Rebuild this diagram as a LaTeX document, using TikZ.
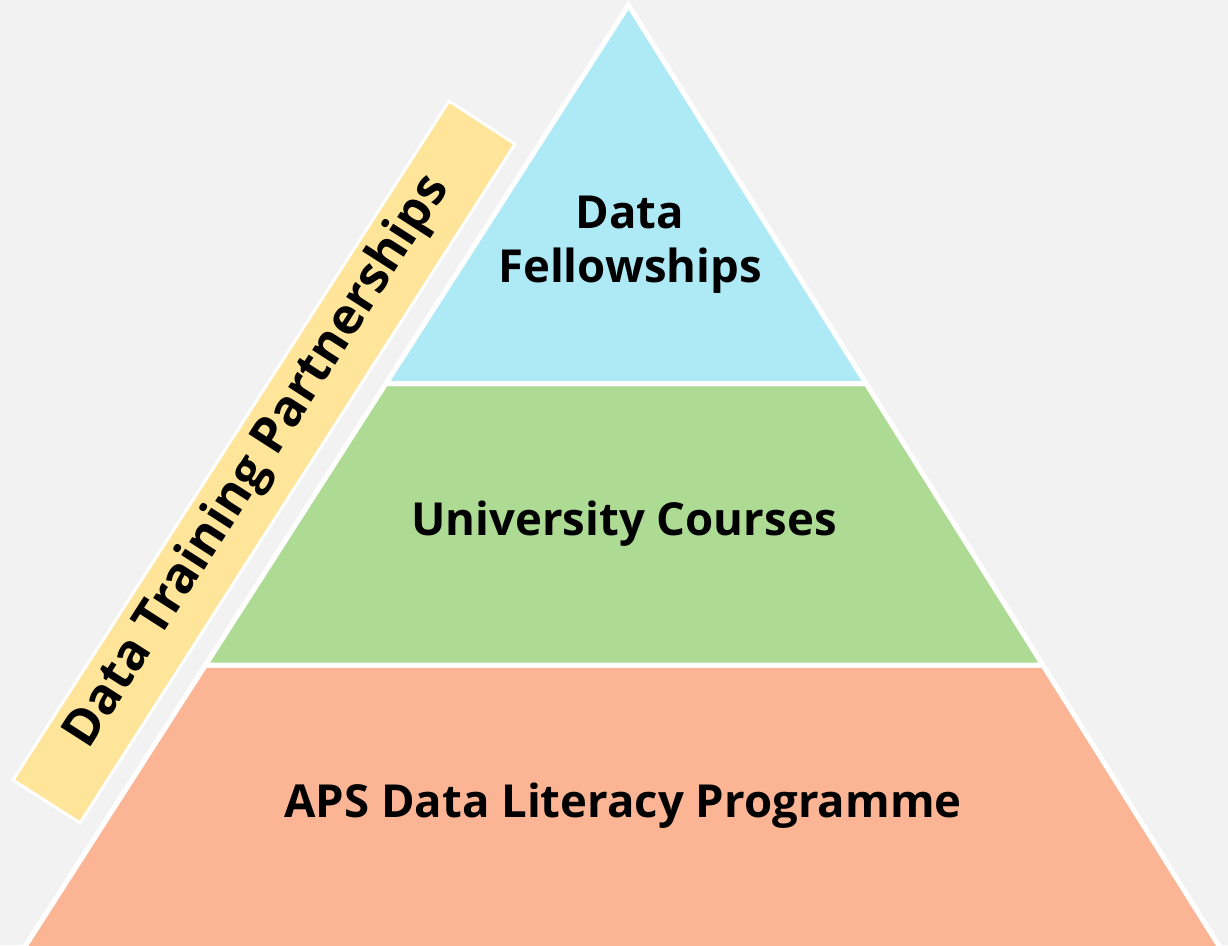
\documentclass[tikz,border=0pt]{standalone}
\usepackage{fontspec}
\setmainfont{Open Sans}
\definecolor{bg}{HTML}{F2F2F2}
\definecolor{cyanL}{HTML}{AEEAF5}
\definecolor{greenL}{HTML}{ADDB94}
\definecolor{salmonL}{HTML}{FBB494}
\definecolor{yellowL}{HTML}{FFE599}
\begin{document}
\begin{tikzpicture}[x=1pt,y=-1pt,
  layer/.style={draw=white,line width=5pt,line join=miter},
  lbl/.style={font=\bfseries\fontsize{45.5}{54}\selectfont,text=black,anchor=base,align=center,inner sep=0pt}]
\useasboundingbox (0,0) rectangle (1228,945);
\fill[bg] (0,0) rectangle (1228,945);
% pyramid corner coordinates
\coordinate (apex) at (628.5,5);
\coordinate (l1) at (385.9,383.5);
\coordinate (r1) at (866.1,383.5);
\coordinate (l2) at (205.5,665);
\coordinate (r2) at (1042.8,665);
\coordinate (l3) at (22.8,950);
\coordinate (r3) at (1221.6,950);
% layers
\filldraw[layer,fill=salmonL] (l2) -- (r2) -- (r3) -- (l3) -- cycle;
\filldraw[layer,fill=greenL] (l1) -- (r1) -- (r2) -- (l2) -- cycle;
\filldraw[layer,fill=cyanL] (apex) -- (r1) -- (l1) -- cycle;
% side band
\coordinate (b1) at (449,101);
\coordinate (b2) at (515,144);
\coordinate (b3) at (80,823);
\coordinate (b4) at (13,780);
\filldraw[draw=white,line width=3pt,fill=yellowL] (b1) -- (b2) -- (b3) -- (b4) -- cycle;
% labels
\node[lbl] (top) at (630,282) {Data\\Fellowships};
\node[lbl] (mid) at (624,535) {University Courses};
\node[lbl] (bot) at (623,817) {APS Data Literacy Programme};
\node[font=\bfseries\fontsize{50}{58}\selectfont,inner sep=0pt,rotate=57.3] (side) at (258,462) {Data Training Partnerships};
\end{tikzpicture}
\end{document}
